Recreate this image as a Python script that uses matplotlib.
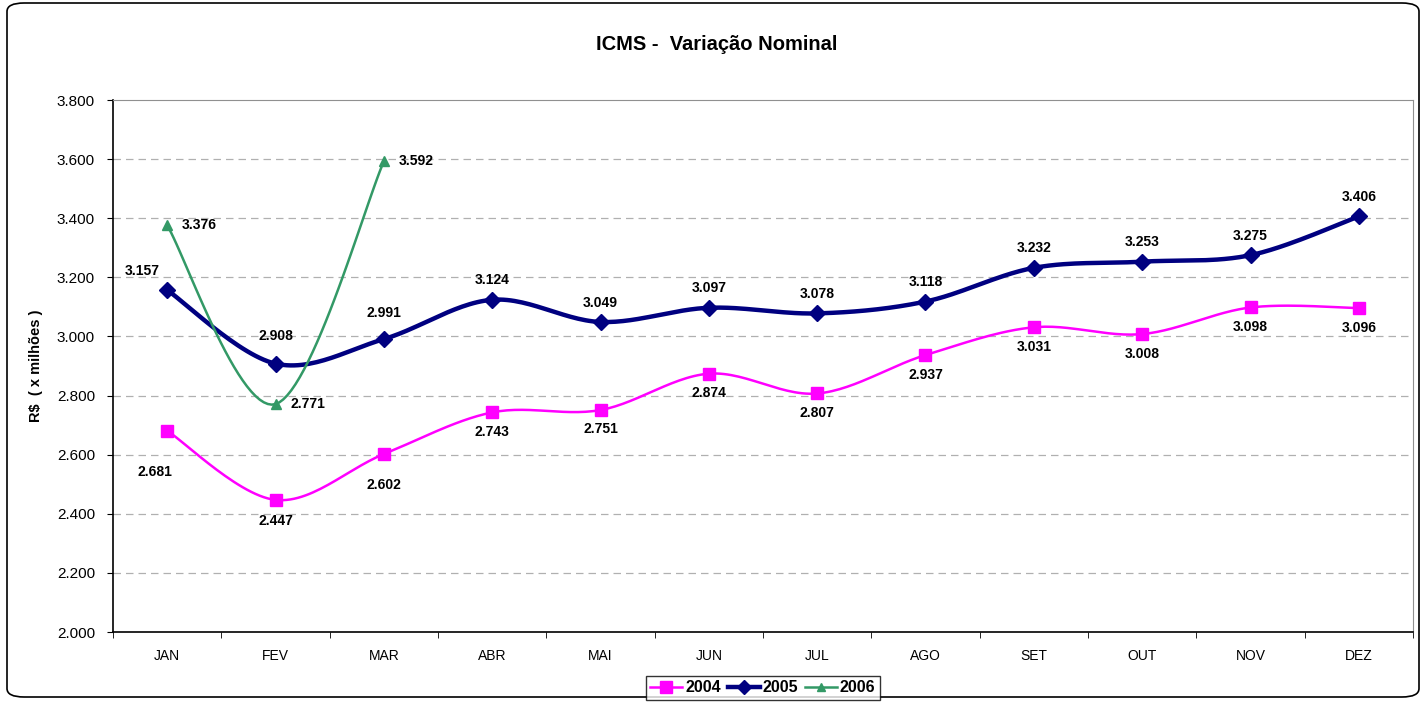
import numpy as np
import matplotlib
matplotlib.use("Agg")
import matplotlib.pyplot as plt
from matplotlib.patches import FancyBboxPatch

months = ["JAN", "FEV", "MAR", "ABR", "MAI", "JUN", "JUL", "AGO", "SET", "OUT", "NOV", "DEZ"]
v2004 = [2681, 2447, 2602, 2743, 2751, 2874, 2807, 2937, 3031, 3008, 3098, 3096]
v2005 = [3157, 2908, 2991, 3124, 3049, 3097, 3078, 3118, 3232, 3253, 3275, 3406]
v2006 = [3376, 2771, 3592]
yticks = [2000, 2200, 2400, 2600, 2800, 3000, 3200, 3400, 3600, 3800]

plt.rcParams['font.family'] = ['Liberation Sans', 'DejaVu Sans']

def fmt(v):
    return f"{v/1000:.3f}"

def smooth(xs, ys, n=30):
    xs = np.asarray(xs, float); ys = np.asarray(ys, float)
    P = np.column_stack([xs, ys])
    out = [P[0]]
    for i in range(len(P) - 1):
        p0 = P[i - 1] if i > 0 else P[i]
        p1 = P[i]; p2 = P[i + 1]
        p3 = P[i + 2] if i + 2 < len(P) else P[i + 1]
        c1 = p1 + (p2 - p0) / 6.0
        c2 = p2 - (p3 - p1) / 6.0
        t = np.linspace(0, 1, n)[1:, None]
        seg = ((1 - t) ** 3) * p1 + 3 * ((1 - t) ** 2) * t * c1 + 3 * (1 - t) * t ** 2 * c2 + t ** 3 * p2
        out.extend(seg)
    out = np.array(out)
    return out[:, 0], out[:, 1]

fig = plt.figure(figsize=(14.24, 7.05), dpi=100)
W, H = 1424, 705
border = FancyBboxPatch((7 / W, 8 / H), 1412 / W, 694 / H,
                        boxstyle="round,pad=0,rounding_size=0.012",
                        transform=fig.transFigure, fill=False, ec="black", lw=1.2)
fig.patches.append(border)

ax = fig.add_axes([113 / W, 1 - 632 / H, 1300 / W, 532 / H])
x = np.arange(len(months))
ax.set_xlim(-0.5, len(months) - 0.5)
ax.set_ylim(2000, 3800)
ax.set_yticks(yticks)
ax.set_yticklabels([fmt(v) for v in yticks], fontsize=11)
ax.set_xticks(x)
ax.set_xticklabels(months, fontsize=10)
ax.set_xticks(np.arange(len(months) + 1) - 0.5, minor=True)
ax.tick_params(axis='x', which='major', length=0, pad=12)
ax.tick_params(axis='x', which='minor', length=4, direction='out', color='black')
ax.tick_params(axis='y', length=4, direction='out', pad=9)
for yv in yticks[1:-1]:
    ax.axhline(yv, color='#b0b0b0', lw=0.9, ls=(0, (6, 4)), zorder=0)
ax.spines['right'].set_color('#909090')
ax.spines['top'].set_color('#909090')
ax.spines['left'].set_linewidth(1.2)
ax.spines['bottom'].set_linewidth(1.2)

c04, c05, c06 = '#FF00FF', '#000080', '#339966'

sx, sy = smooth(x, v2004)
ax.plot(sx, sy, color=c04, lw=1.8, zorder=3)
ax.plot(x, v2004, ls='none', marker='s', ms=8, color=c04, zorder=4)
sx, sy = smooth(x, v2005)
ax.plot(sx, sy, color=c05, lw=3.2, zorder=5)
ax.plot(x, v2005, ls='none', marker='D', ms=8, color=c05, zorder=6)
x6 = x[:len(v2006)]
sx, sy = smooth(x6, v2006)
ax.plot(sx, sy, color=c06, lw=1.8, zorder=7)
ax.plot(x6, v2006, ls='none', marker='^', ms=7, color=c06, zorder=8)

lab = dict(fontsize=10, fontweight='bold', ha='center', va='center', textcoords='offset points')
off04 = [(-9, -30), (0, -15), (0, -22)] + [(0, -14)] * 9
off05 = [(-18, 14), (0, 20), (0, 19)] + [(0, 14)] * 9
for i, v in enumerate(v2004):
    ax.annotate(fmt(v), (x[i], v), xytext=off04[i], **lab)
for i, v in enumerate(v2005):
    ax.annotate(fmt(v), (x[i], v), xytext=off05[i], **lab)
for i, v in enumerate(v2006):
    ax.annotate(fmt(v), (x6[i], v), xytext=(23, 0), **lab)

fig.text(717 / W, 1 - 44 / H, "ICMS -  Variação Nominal", ha='center', va='center',
         fontsize=14.5, fontweight='bold')
fig.text(36 / W, 1 - 366 / H, "R$  ( x milhões )", ha='center', va='center',
         rotation=90, fontsize=10.5, fontweight='bold')

h1, = ax.plot([], [], color=c04, lw=1.8, marker='s', ms=8)
h2, = ax.plot([], [], color=c05, lw=3.2, marker='D', ms=7)
h3, = ax.plot([], [], color=c06, lw=1.8, marker='^', ms=6)
leg = fig.legend([h1, h2, h3], ["2004", "2005", "2006"], loc='center',
                 bbox_to_anchor=(763 / W, 1 - 688 / H), ncol=3, frameon=True,
                 fancybox=False, edgecolor='black', handlelength=2.0,
                 handletextpad=0.2, columnspacing=0.4, borderpad=0.3,
                 borderaxespad=0, prop={'weight': 'bold', 'size': 11.5})
leg.get_frame().set_linewidth(1.0)

fig.savefig("out.png", dpi=100)
